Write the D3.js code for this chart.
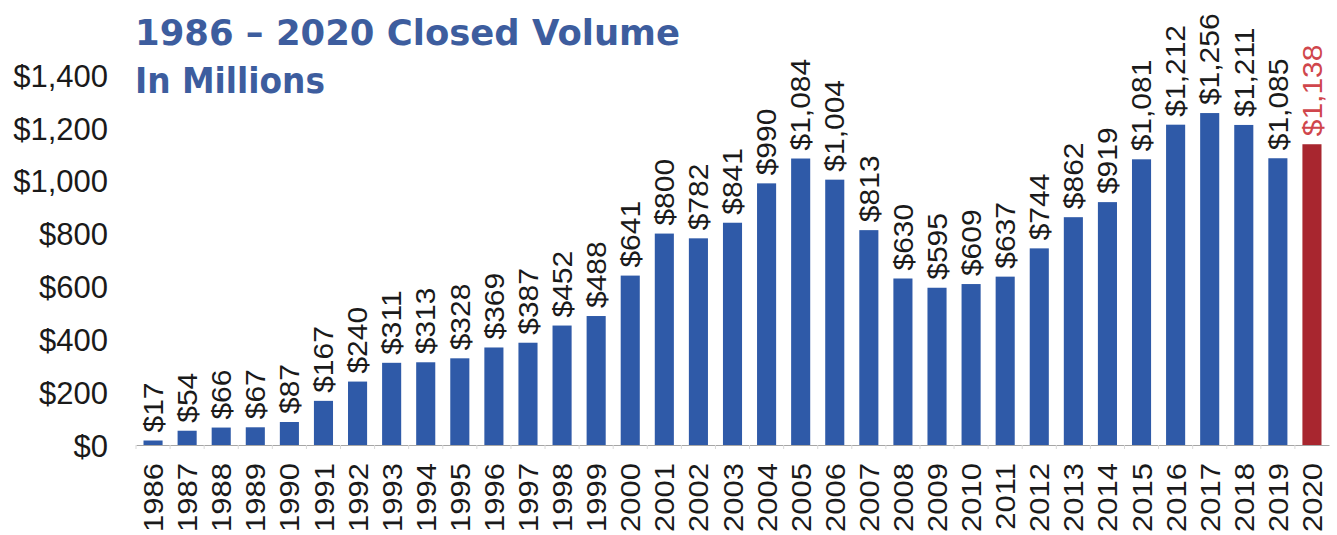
<!DOCTYPE html>
<html>
<head>
<meta charset="utf-8">
<script src="https://cdn.jsdelivr.net/npm/d3@7"></script>
<style>
  html, body { margin: 0; padding: 0; background: #fff; }
  svg { display: block; }
</style>
</head>
<body>
<svg id="chart" width="1337" height="535"></svg>
<script>
const years = ["1986","1987","1988","1989","1990","1991","1992","1993","1994","1995","1996","1997","1998","1999","2000","2001","2002","2003","2004","2005","2006","2007","2008","2009","2010","2011","2012","2013","2014","2015","2016","2017","2018","2019","2020"];
const volumes = [17,54,66,67,87,167,240,311,313,328,369,387,452,488,641,800,782,841,990,1084,1004,813,630,595,609,637,744,862,919,1081,1212,1256,1211,1085,1138];
const yTicks = [0,200,400,600,800,1000,1200,1400];
const titleLines = ["1986 \u2013 2020 Closed Volume", "In Millions"];
const highlightYear = "2020";

const svg = d3.select("#chart");
const x = d3.scaleBand().domain(years).range([136, 1329]).paddingInner(0.44).paddingOuter(0.22);
const y = d3.scaleLinear().domain([0, 1400]).range([445, 75]);

const blue = "#2f5aa8", red = "#a8262f";
const fmt = v => "$" + d3.format(",")(v);

// Y axis labels
const yAxis = d3.axisLeft(y).tickValues(yTicks).tickFormat(fmt).tickSize(0).tickPadding(0);
const gy = svg.append("g").attr("transform", "translate(108,0)").call(yAxis);
gy.select(".domain").remove();
gy.selectAll("text")
  .attr("font-family", "'Liberation Sans', Arial, sans-serif")
  .attr("font-size", 31).attr("fill", "#1a1a1a").attr("dy", "0.36em");

// Bars
svg.append("g").selectAll("rect").data(years).join("rect")
  .attr("x", d => x(d))
  .attr("width", x.bandwidth())
  .attr("y", (d, i) => y(volumes[i]))
  .attr("height", (d, i) => y(0) - y(volumes[i]))
  .attr("fill", d => d === highlightYear ? red : blue);

// X axis baseline
const xAxis = d3.axisBottom(x).tickSize(0).tickFormat("");
const gx = svg.append("g").attr("transform", "translate(0," + y(0) + ")").call(xAxis);
gx.select(".domain").attr("stroke", "#a6a6a6").attr("stroke-width", 1.2);
gx.selectAll(".tick").remove();

// small boundary ticks
const step = x.step();
svg.append("g").selectAll("line").data(years).join("line")
  .attr("x1", d => x(d) + x.bandwidth() / 2 - step / 2)
  .attr("x2", d => x(d) + x.bandwidth() / 2 - step / 2)
  .attr("y1", y(0)).attr("y2", y(0) + 4)
  .attr("stroke", "#d9d9d9").attr("stroke-width", 1);

// Year labels (rotated)
svg.append("g").selectAll("text").data(years).join("text")
  .attr("transform", d => `translate(${x(d) + x.bandwidth() / 2},463) scale(0.9,1) rotate(-90)`)
  .attr("text-anchor", "end")
  .attr("dy", "0.36em")
  .attr("font-family", "'Liberation Sans', Arial, sans-serif")
  .attr("font-size", 31).attr("fill", "#1a1a1a")
  .text(d => d);

// Value labels (rotated)
svg.append("g").selectAll("text").data(years).join("text")
  .attr("transform", (d, i) => `translate(${x(d) + x.bandwidth() / 2},${y(volumes[i]) - 8}) scale(0.9,1) rotate(-90)`)
  .attr("text-anchor", "start")
  .attr("dy", "0.36em")
  .attr("font-family", "'Liberation Sans', Arial, sans-serif")
  .attr("font-size", 30)
  .attr("fill", d => d === highlightYear ? "#d0464c" : "#1a1a1a")
  .text((d, i) => fmt(volumes[i]));

// Title
const tg = svg.append("g").attr("font-family", "'DejaVu Sans', Lato, sans-serif").attr("font-weight", "bold").attr("fill", "#3d5d9e");
tg.append("text").attr("x", 135).attr("y", 45).attr("font-size", 35)
  .attr("textLength", 545).attr("lengthAdjust", "spacingAndGlyphs").text(titleLines[0]);
tg.append("text").attr("x", 135).attr("y", 93).attr("font-size", 35)
  .attr("textLength", 190).attr("lengthAdjust", "spacingAndGlyphs").text(titleLines[1]);
</script>
</body>
</html>
